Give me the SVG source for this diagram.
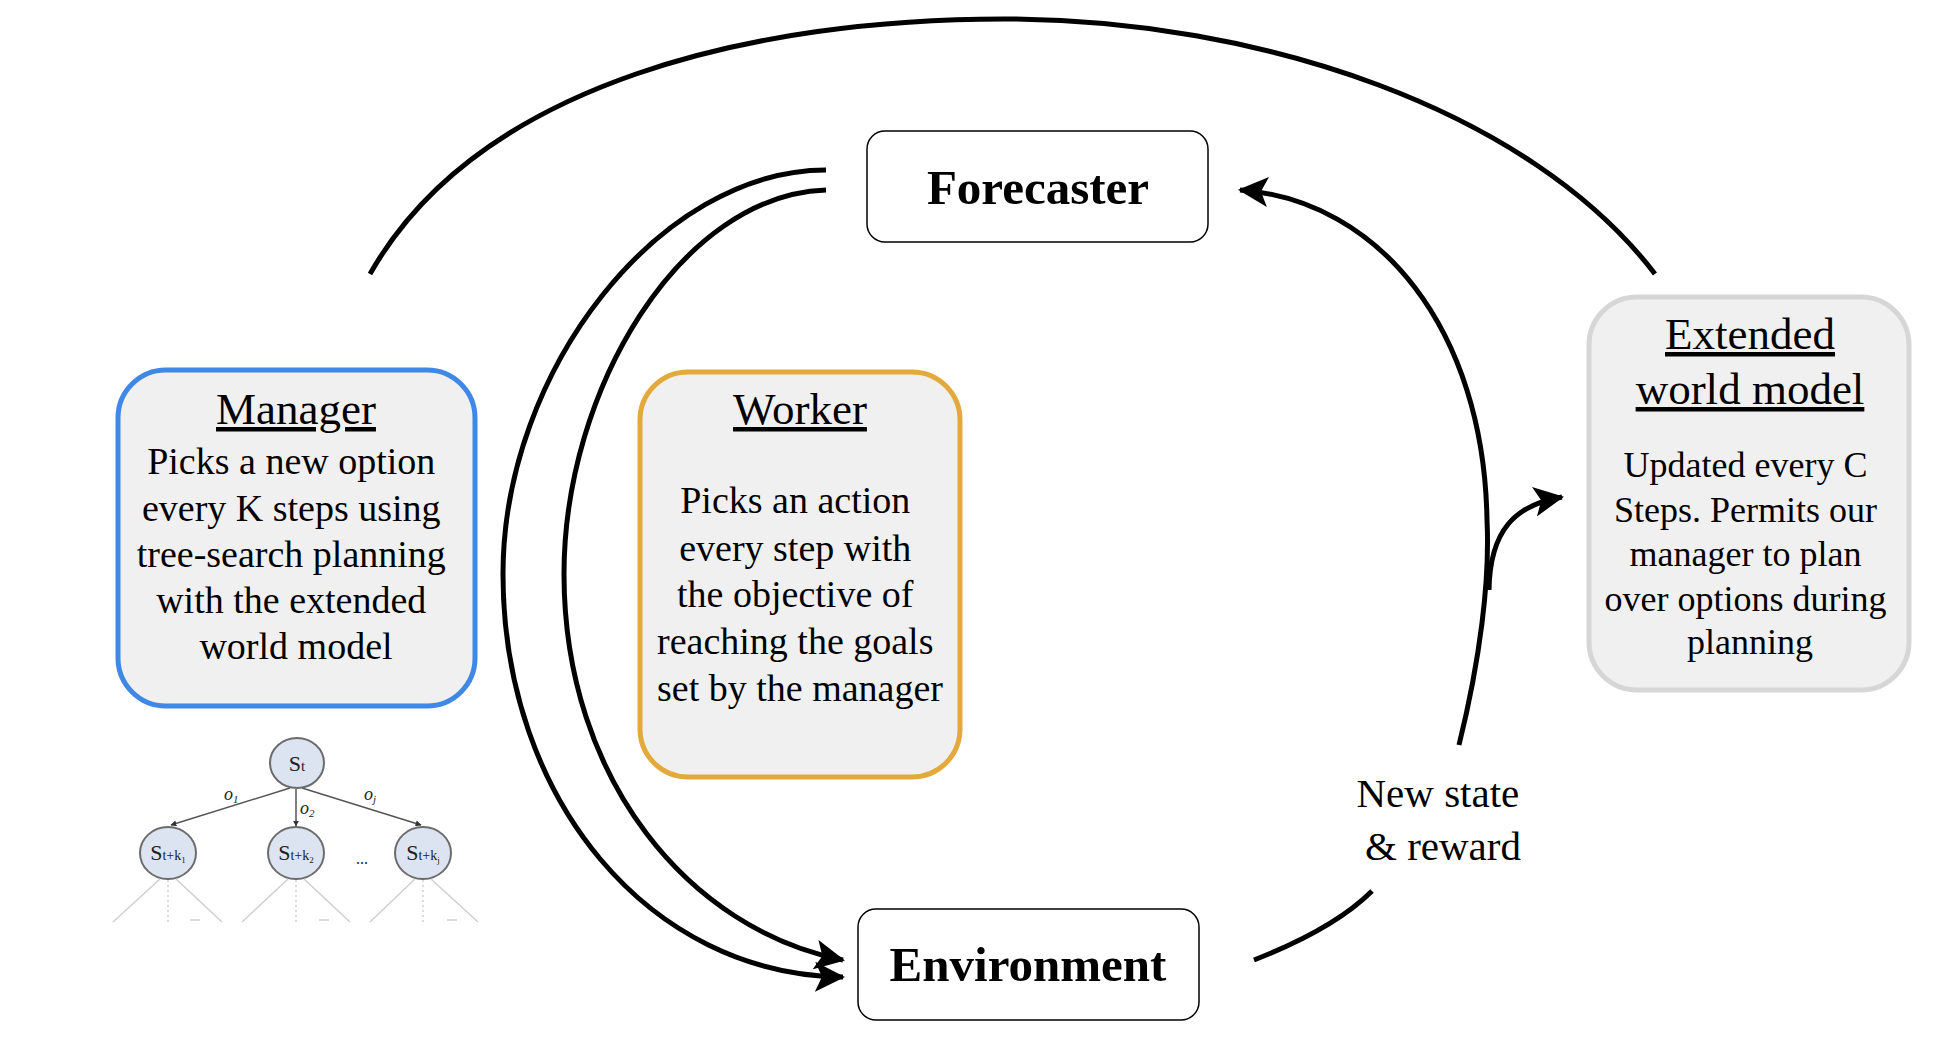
<svg xmlns="http://www.w3.org/2000/svg" width="1956" height="1056" viewBox="0 0 1956 1056">
<style>
.serif{font-family:"Liberation Serif","Times New Roman",serif;fill:#000}
.title{font-size:45px;text-decoration:underline}
.body{font-size:38px}
.ebody{font-size:36px}
.big{font-size:49px;font-weight:bold}
.conn{fill:none;stroke:#000;stroke-width:5}
.tnode{fill:#dde4f1;stroke:#6b6b6b;stroke-width:2}
.tedge{stroke:#555;stroke-width:1.5;fill:none}
.tfaint{stroke:#cfcfcf;stroke-width:1.5;fill:none}
.tdot{stroke:#cfcfcf;stroke-width:1.5;stroke-dasharray:2 3;fill:none}
.ts{font-family:"Liberation Serif","Times New Roman",serif;fill:#222}
</style>
<defs>
<marker id="ah" viewBox="0 0 30 30" refX="28" refY="15" markerWidth="30" markerHeight="30" markerUnits="userSpaceOnUse" orient="auto">
<path d="M0,0 L30,15 L0,30 L7,15 Z" fill="#000"/>
</marker>
<marker id="ahs" viewBox="0 0 10 10" refX="9" refY="5" markerWidth="6" markerHeight="6" markerUnits="userSpaceOnUse" orient="auto">
<path d="M0,0 L10,5 L0,10 Z" fill="#333"/>
</marker>
</defs>
<rect width="1956" height="1056" fill="#fff"/>

<g id="connectors">
<path class="conn" d="M370,274 C480,80 760,19 1004,19 C1260,19 1530,110 1655,274"/>
<path class="conn" d="M826,170 C660,170 503,370 503,574 C503,800 650,975 843,977" marker-end="url(#ah)"/>
<path class="conn" d="M826,190 C680,195 564,390 564,574 C564,780 690,930 843,960" marker-end="url(#ah)"/>
<path class="conn" d="M1459,745 C1480,660 1490,580 1487,520 C1484,330 1380,200 1240,190" marker-end="url(#ah)"/>
<path class="conn" d="M1489,590 C1490,530 1515,505 1562,497" marker-end="url(#ah)"/>
<path class="conn" d="M1254,960 C1300,942 1345,918 1372,891"/>
</g>

<g id="forecaster">
<rect x="867" y="131" width="341" height="111" rx="18" fill="#fff" stroke="#000" stroke-width="1.5"/>
<text class="serif big" x="1038" y="204" text-anchor="middle">Forecaster</text>
</g>

<g id="environment">
<rect x="858" y="909" width="341" height="111" rx="18" fill="#fff" stroke="#000" stroke-width="1.5"/>
<text class="serif big" x="1028" y="981" text-anchor="middle">Environment</text>
</g>

<g id="manager">
<rect x="118" y="370" width="357" height="336" rx="48" fill="#f0f0f0" stroke="#3f88e6" stroke-width="5"/>
<text class="serif title" x="296" y="424" text-anchor="middle">Manager</text>
<text class="serif body" text-anchor="middle">
<tspan x="296" y="474">Picks a new option</tspan>
<tspan x="296" y="521">every K steps using</tspan>
<tspan x="296" y="567">tree-search planning</tspan>
<tspan x="296" y="613">with the extended</tspan>
<tspan x="296" y="659">world model</tspan>
</text>
</g>

<g id="worker">
<rect x="640" y="372" width="320" height="405" rx="48" fill="#f0f0f0" stroke="#e3a93a" stroke-width="5"/>
<text class="serif title" x="800" y="424" text-anchor="middle">Worker</text>
<text class="serif body" text-anchor="middle">
<tspan x="800" y="513">Picks an action</tspan>
<tspan x="800" y="561">every step with</tspan>
<tspan x="800" y="607">the objective of</tspan>
<tspan x="800" y="654">reaching the goals</tspan>
<tspan x="800" y="701">set by the manager</tspan>
</text>
</g>

<g id="extended-world-model">
<rect x="1589" y="297" width="320" height="393" rx="48" fill="#f0f0f0" stroke="#d6d6d6" stroke-width="5"/>
<text class="serif title" x="1750" y="349" text-anchor="middle">Extended</text>
<text class="serif title" x="1750" y="404" text-anchor="middle">world model</text>
<text class="serif ebody" text-anchor="middle">
<tspan x="1750" y="477">Updated every C</tspan>
<tspan x="1750" y="522">Steps. Permits our</tspan>
<tspan x="1750" y="566">manager to plan</tspan>
<tspan x="1750" y="611">over options during</tspan>
<tspan x="1750" y="654">planning</tspan>
</text>
</g>

<g id="new-state-label">
<text class="serif" font-size="41" text-anchor="middle">
<tspan x="1443" y="807">New state</tspan>
<tspan x="1443" y="860">&amp; reward</tspan>
</text>
</g>

<g id="tree">
<line class="tedge" x1="290" y1="788" x2="171" y2="825" marker-end="url(#ahs)"/>
<line class="tedge" x1="296" y1="789" x2="296" y2="826" marker-end="url(#ahs)"/>
<line class="tedge" x1="302" y1="788" x2="421" y2="825" marker-end="url(#ahs)"/>
<ellipse class="tnode" cx="297" cy="763" rx="27" ry="25"/>
<ellipse class="tnode" cx="168" cy="853" rx="28" ry="26"/>
<ellipse class="tnode" cx="296" cy="853" rx="28" ry="26"/>
<ellipse class="tnode" cx="423" cy="853" rx="28" ry="26"/>
<text class="ts" x="297" y="771" text-anchor="middle" font-size="22">S<tspan font-size="15">t</tspan></text>
<text class="ts" x="168" y="860" text-anchor="middle" font-size="22">S<tspan font-size="14">t+k</tspan><tspan font-size="9" dy="3">1</tspan></text>
<text class="ts" x="296" y="860" text-anchor="middle" font-size="22">S<tspan font-size="14">t+k</tspan><tspan font-size="9" dy="3">2</tspan></text>
<text class="ts" x="423" y="860" text-anchor="middle" font-size="22">S<tspan font-size="14">t+k</tspan><tspan font-size="9" dy="3">j</tspan></text>
<text class="ts" x="224" y="800" font-size="18" font-style="italic">o<tspan font-size="11" dy="3">1</tspan></text>
<text class="ts" x="300" y="814" font-size="18" font-style="italic">o<tspan font-size="11" dy="3">2</tspan></text>
<text class="ts" x="364" y="800" font-size="18" font-style="italic">o<tspan font-size="11" dy="3">j</tspan></text>
<text class="ts" x="362" y="864" font-size="16" text-anchor="middle">...</text>
<path class="tfaint" d="M160,879 L113,922 M176,879 L222,922 M288,879 L242,922 M304,879 L350,922 M415,879 L370,922 M431,879 L478,922"/>
<path class="tdot" d="M168,880 V922 M296,880 V922 M423,880 V922"/>
<path class="tfaint" d="M190,920 H200 M319,920 H329 M447,920 H457"/>
</g>
</svg>
